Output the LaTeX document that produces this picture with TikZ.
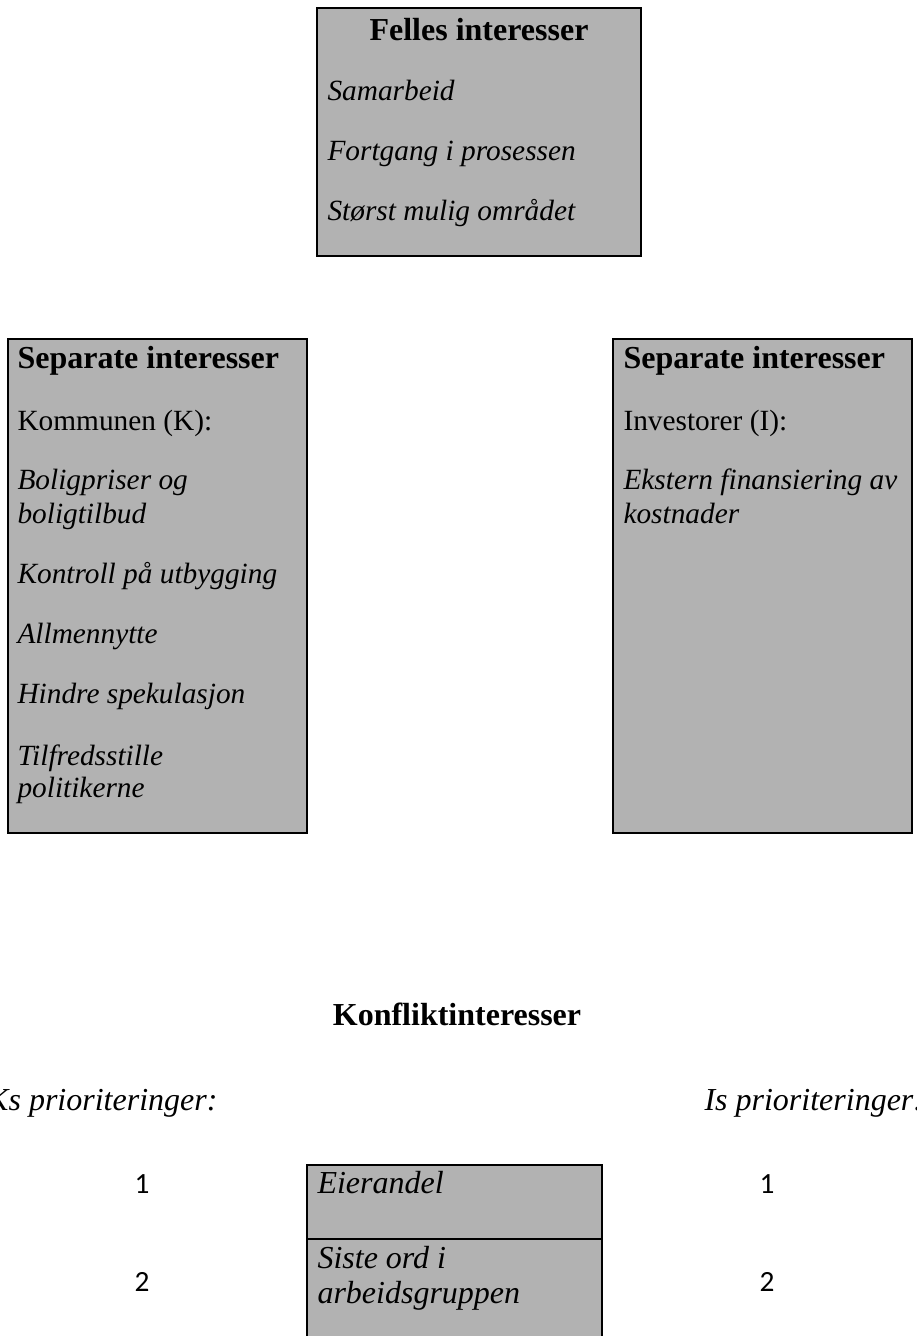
\documentclass[tikz,border=0pt]{standalone}
\usepackage{fontspec}
\setmainfont{Liberation Serif}
\newfontfamily\digitfont{Carlito}
\definecolor{boxgray}{HTML}{B2B2B2}

\begin{document}
\begin{tikzpicture}[x=0.375pt, y=-0.375pt,
    box/.style={draw=black, line width=1.1pt, fill=boxgray},
    head/.style={font=\fontsize{12}{14}\selectfont\bfseries, inner sep=0pt, anchor=base},
    plain/.style={font=\fontsize{11}{13}\selectfont, inner sep=0pt, anchor=base west},
    item/.style={font=\fontsize{11}{13}\selectfont\itshape, inner sep=0pt, anchor=base west},
    bigitem/.style={font=\fontsize{12}{14}\selectfont\itshape, inner sep=0pt, anchor=base west},
    num/.style={font=\fontsize{11}{13}\selectfont\digitfont, inner sep=0pt, anchor=base}]

      \useasboundingbox (0,0) rectangle (916,1336);

      \def\kx{17}
      \def\ix{623}
      \def\hy{368}

      \draw[box] (317,8) rectangle (641,256);
      \node[head] (felles) at (479,40) {Felles interesser};
      \foreach \txt/\yb/\nm in {Samarbeid/100/a, Fortgang i prosessen/160/b, Størst mulig området/220/c}{
        \node[item] (f\nm) at (327,\yb) {\txt};
      }

      \draw[box] (8,339) rectangle (307,833);
      \node[head, anchor=base west] (ksep) at (\kx,\hy) {Separate interesser};
      \node[plain] (kommune) at (\kx,430) {Kommunen (K):};
      \foreach \txt/\yb/\nm in {Boligpriser og/489/a, boligtilbud/523/b, Kontroll på utbygging/583/c,
          Allmennytte/643/d, Hindre spekulasjon/703/e, Tilfredsstille/765/f, politikerne/797/g}{
        \node[item] (k\nm) at (\kx,\yb) {\txt};
      }

      \draw[box] (613,339) rectangle (912,833);
      \node[head, anchor=base west] (isep) at (\ix,\hy) {Separate interesser};
      \node[plain] (investor) at (\ix,430) {Investorer (I):};
      \node[item] (ia) at (\ix,489) {Ekstern finansiering av};
      \node[item] (ib) at (\ix,523) {kostnader};

      \node[head] (konflikt) at (457,1025) {Konfliktinteresser};
      \node[bigitem, anchor=base east] (kprio) at (218,1110) {Ks prioriteringer:};
      \node[bigitem] (iprio) at (704,1110) {Is prioriteringer:};

      \foreach \n/\yb in {1/1193, 2/1291}{
        \node[num] (kn\n) at (142,\yb) {\n};
        \node[num] (in\n) at (767,\yb) {\n};
      }

      \draw[box] (307,1165) rectangle (602,1400);
      \draw[line width=1.1pt] (307,1239) -- (602,1239);
      \node[bigitem] (eier) at (317,1193) {Eierandel};
      \node[bigitem] (siste) at (317,1268) {Siste ord i};
      \node[bigitem] (gruppe) at (317,1303) {arbeidsgruppen};

\end{tikzpicture}
\end{document}
